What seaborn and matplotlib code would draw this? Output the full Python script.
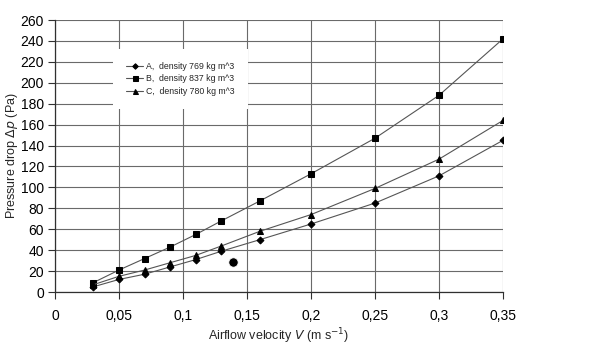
import numpy as np
import pandas as pd
import seaborn as sns
import matplotlib
matplotlib.use("Agg")
import matplotlib.pyplot as plt
from matplotlib.ticker import FuncFormatter, MultipleLocator

velocity = [0.03, 0.05, 0.07, 0.09, 0.11, 0.13, 0.16, 0.20, 0.25, 0.30, 0.35]
series_a = [5, 12, 17, 24, 31, 39, 50, 65, 85, 111, 145]
series_b = [9, 21, 32, 43, 55, 68, 87, 113, 147, 188, 242]
series_c = [7, 15, 21, 28, 35, 44, 58, 74, 99, 127, 164]
labels = ["A,  density 769 kg m^3", "B,  density 837 kg m^3", "C,  density 780 kg m^3"]
extra_x = [0.139]
extra_y = [29]

sns.set_theme(style="white")
plt.rcParams['font.family'] = ['Liberation Sans', 'DejaVu Sans']

fig = plt.figure(figsize=(6.0, 3.46), dpi=100)
ax = fig.add_axes([55/600, 1-292/346, 448/600, 272/346])

markers = ["D", "s", "^"]
msizes = [3.5, 4.5, 4.5]
for vals, lab, mk, ms in zip([series_a, series_b, series_c], labels, markers, msizes):
    df = pd.DataFrame({"v": velocity, "p": vals})
    sns.lineplot(data=df, x="v", y="p", ax=ax, color="#555555", linewidth=0.8,
                 marker=mk, markersize=ms, markerfacecolor="black",
                 markeredgecolor="black", label=lab, zorder=3)

sns.scatterplot(x=extra_x, y=extra_y, ax=ax, color="black", s=45, zorder=4, legend=False)

ax.set_xlim(0, 0.35)
ax.set_ylim(0, 260)
ax.xaxis.set_major_locator(MultipleLocator(0.05))
ax.yaxis.set_major_locator(MultipleLocator(20))

def comma(x, pos):
    s = f"{x:.2f}".rstrip("0").rstrip(".")
    return s.replace(".", ",")
ax.xaxis.set_major_formatter(FuncFormatter(comma))

ax.grid(True, color="#6a6a6a", linewidth=0.8)
for s in ["top", "right"]:
    ax.spines[s].set_visible(False)
for s in ["left", "bottom"]:
    ax.spines[s].set_color("#303030")
    ax.spines[s].set_linewidth(0.9)
ax.tick_params(axis="both", which="major", direction="out", length=5, width=0.8,
               color="#303030", labelsize=10, labelcolor="black", pad=3, left=True, bottom=True)
ax.tick_params(axis="x", pad=7)

ax.set_xlabel(r"Airflow velocity $\it{V}$ (m s$^{-1}$)", fontsize=9, labelpad=3)
ax.set_ylabel(r"Pressure drop $\it{\Delta p}$ (Pa)", fontsize=9, labelpad=0)

leg = ax.legend(loc="upper left", bbox_to_anchor=(0.13, 0.895), fontsize=6.3,
                frameon=True, facecolor="white", edgecolor="white", framealpha=1,
                handlelength=1.9, handletextpad=0.35, labelspacing=0.4,
                borderpad=1.5, borderaxespad=0, fancybox=False, markerscale=0.8)
leg.set_zorder(5)
leg.get_frame().set_linewidth(0)

fig.savefig("out.png", dpi=100, facecolor="white")
